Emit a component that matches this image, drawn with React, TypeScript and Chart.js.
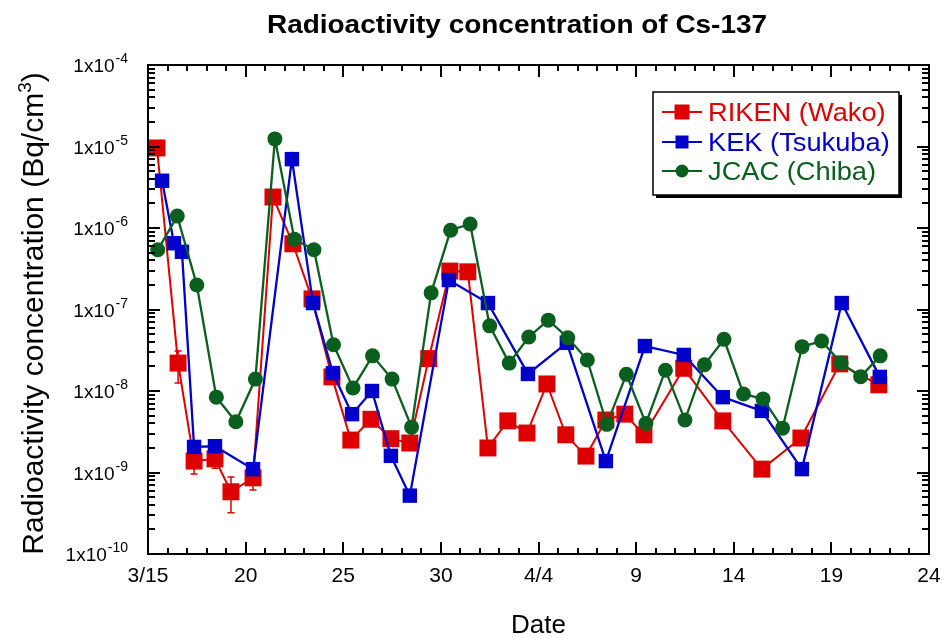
import React, { useEffect, useRef } from "react";
import { Chart, registerables } from "chart.js";

Chart.register(...registerables);

const FONT = '"Liberation Sans", Arial, Helvetica, sans-serif';

const chartTitle = "Radioactivity concentration of Cs-137";
const xAxisTitle = "Date";
const yAxisTitleMain = "Radioactivity concentration (Bq/cm";
const yAxisTitleSup = "3";
const yAxisTitleEnd = ")";

const seriesNames = ["RIKEN (Wako)", "KEK (Tsukuba)", "JCAC (Chiba)"];
const seriesColors = ["#dd0000", "#0000cc", "#0a5f1e"];

// x = day counted from 1 March (4/4 = 35)
const rikenDays = [15.46, 16.54, 17.36, 18.43, 19.25, 20.38, 21.4, 22.42, 23.4, 24.42, 25.39, 26.42, 27.44, 28.41, 29.38, 30.46, 31.38, 32.41, 33.43, 34.41, 35.43, 36.4, 37.43, 38.45, 39.42, 40.4, 42.44, 44.44, 46.44, 48.44, 50.43, 52.43];
const rikenValues = [9.6e-6, 2.2e-8, 1.38e-9, 1.47e-9, 5.8e-10, 8.6e-10, 2.4e-6, 6.4e-7, 1.35e-7, 1.49e-8, 2.5e-9, 4.5e-9, 2.6e-9, 2.3e-9, 2.5e-8, 2.96e-7, 2.9e-7, 2.0e-9, 4.3e-9, 3.05e-9, 1.22e-8, 2.9e-9, 1.59e-9, 4.4e-9, 5.2e-9, 2.9e-9, 1.9e-8, 4.3e-9, 1.1e-9, 2.65e-9, 2.15e-8, 1.19e-8];

const rikenErrDays = [16.54, 17.36, 18.43, 19.25, 20.38];
const rikenErrLow = [1.25e-8, 9.6e-10, 1.13e-9, 3.2e-10, 6.1e-10];
const rikenErrHigh = [3.1e-8, 2.0e-9, 1.9e-9, 8.8e-10, 1.2e-9];

const kekDays = [15.72, 16.33, 16.74, 17.36, 18.43, 20.38, 22.37, 23.45, 24.47, 25.45, 26.47, 27.44, 28.41, 30.41, 32.41, 34.46, 36.45, 38.45, 40.45, 42.44, 44.44, 46.44, 48.49, 50.53, 52.48];
const kekValues = [3.8e-6, 6.5e-7, 5.1e-7, 2.06e-9, 2.1e-9, 1.1e-9, 7.0e-6, 1.2e-7, 1.66e-8, 5.2e-9, 1.0e-8, 1.6e-9, 5.2e-10, 2.3e-7, 1.2e-7, 1.62e-8, 3.9e-8, 1.38e-9, 3.56e-8, 2.77e-8, 8.4e-9, 5.7e-9, 1.1e-9, 1.2e-7, 1.49e-8];

const jcacDays = [15.5, 16.5, 17.5, 18.5, 19.5, 20.5, 21.5, 22.5, 23.5, 24.5, 25.5, 26.5, 27.5, 28.5, 29.5, 30.5, 31.5, 32.5, 33.5, 34.5, 35.5, 36.5, 37.5, 38.5, 39.5, 40.5, 41.5, 42.5, 43.5, 44.5, 45.5, 46.5, 47.5, 48.5, 49.5, 50.5, 51.5, 52.5];
const jcacValues = [5.4e-7, 1.4e-6, 2.0e-7, 8.4e-9, 4.2e-9, 1.4e-8, 1.24e-5, 7.3e-7, 5.4e-7, 3.7e-8, 1.09e-8, 2.7e-8, 1.4e-8, 3.6e-9, 1.6e-7, 9.4e-7, 1.12e-6, 6.3e-8, 2.2e-8, 4.6e-8, 7.4e-8, 4.5e-8, 2.4e-8, 3.9e-9, 1.6e-8, 4.0e-9, 1.8e-8, 4.4e-9, 2.1e-8, 4.3e-8, 9.2e-9, 8.0e-9, 3.5e-9, 3.5e-8, 4.1e-8, 2.2e-8, 1.5e-8, 2.7e-8];

const xTickValues = [15, 20, 25, 30, 35, 40, 45, 50, 55];
const xTickLabels = ["3/15", "20", "25", "30", "4/4", "9", "14", "19", "24"];
const yTickExponents = [-10, -9, -8, -7, -6, -5, -4];

function toPoints(xs: number[], ys: number[]) {
  return xs.map((x, i) => ({ x, y: ys[i] }));
}

const decorPlugin = {
  id: "decor",
  beforeDatasetsDraw(chart: any) {
    const ctx = chart.ctx;
    const xs = chart.scales.x;
    const ys = chart.scales.y;
    ctx.save();
    ctx.strokeStyle = seriesColors[0];
    ctx.lineWidth = 1.5;
    rikenErrDays.forEach((d, i) => {
      const px = xs.getPixelForValue(d);
      const y1 = ys.getPixelForValue(rikenErrLow[i]);
      const y2 = ys.getPixelForValue(rikenErrHigh[i]);
      ctx.beginPath();
      ctx.moveTo(px, y1);
      ctx.lineTo(px, y2);
      ctx.moveTo(px - 3.5, y1);
      ctx.lineTo(px + 3.5, y1);
      ctx.moveTo(px - 3.5, y2);
      ctx.lineTo(px + 3.5, y2);
      ctx.stroke();
    });
    ctx.restore();
  },
  afterDatasetsDraw(chart: any) {
    const ctx = chart.ctx;
    const { left, right, top, bottom } = chart.chartArea;
    const xs = chart.scales.x;
    const ys = chart.scales.y;
    ctx.save();
    ctx.strokeStyle = "#000";
    ctx.lineWidth = 2;
    ctx.strokeRect(left, top, right - left, bottom - top);
    ctx.beginPath();
    for (let d = xTickValues[0]; d <= xTickValues[xTickValues.length - 1]; d++) {
      const px = Math.round(xs.getPixelForValue(d));
      const len = xTickValues.includes(d) ? 12 : 6;
      ctx.moveTo(px, bottom);
      ctx.lineTo(px, bottom - len);
      ctx.moveTo(px, top);
      ctx.lineTo(px, top + len);
    }
    for (let k = 0; k < yTickExponents.length - 1; k++) {
      for (let m = 1; m <= 9; m++) {
        const py = Math.round(ys.getPixelForValue(m * Math.pow(10, yTickExponents[k])));
        const len = m === 1 ? 12 : 7;
        ctx.moveTo(left, py);
        ctx.lineTo(left + len, py);
        ctx.moveTo(right, py);
        ctx.lineTo(right - len, py);
      }
    }
    ctx.stroke();
    ctx.restore();
  },
  afterDraw(chart: any) {
    const ctx = chart.ctx;
    const { left, right, top, bottom } = chart.chartArea;
    const xs = chart.scales.x;
    const ys = chart.scales.y;
    ctx.save();
    ctx.fillStyle = "#000";

    // x tick labels
    ctx.font = `21px ${FONT}`;
    ctx.textAlign = "center";
    ctx.textBaseline = "alphabetic";
    xTickValues.forEach((v, i) => {
      ctx.fillText(xTickLabels[i], xs.getPixelForValue(v), bottom + 28);
    });

    // y tick labels with superscript exponent
    const labelRight = left - 20;
    yTickExponents.forEach((e) => {
      const py = ys.getPixelForValue(Math.pow(10, e));
      const sup = String(e);
      ctx.textAlign = "right";
      ctx.font = `14px ${FONT}`;
      const supW = ctx.measureText(sup).width;
      ctx.fillText(sup, labelRight, py - 2);
      ctx.font = `19px ${FONT}`;
      ctx.fillText("1x10", labelRight - supW - 1, py + 7);
    });

    // x axis title
    ctx.textAlign = "center";
    ctx.font = `26px ${FONT}`;
    ctx.fillText(xAxisTitle, (left + right) / 2, bottom + 79);

    // y axis title (rotated)
    ctx.save();
    ctx.translate(43, (top + bottom) / 2 + 4);
    ctx.rotate(-Math.PI / 2);
    ctx.textAlign = "left";
    ctx.font = `30px ${FONT}`;
    const wMain = ctx.measureText(yAxisTitleMain).width;
    const wEnd = ctx.measureText(yAxisTitleEnd).width;
    ctx.font = `19px ${FONT}`;
    const wSup = ctx.measureText(yAxisTitleSup).width;
    const total = wMain + wSup + wEnd;
    let x0 = -total / 2;
    ctx.font = `30px ${FONT}`;
    ctx.fillText(yAxisTitleMain, x0, 0);
    ctx.font = `19px ${FONT}`;
    ctx.fillText(yAxisTitleSup, x0 + wMain, -12);
    ctx.font = `30px ${FONT}`;
    ctx.fillText(yAxisTitleEnd, x0 + wMain + wSup, 0);
    ctx.restore();

    // chart title
    ctx.save();
    ctx.translate(517, 33);
    ctx.scale(1.075, 1);
    ctx.textAlign = "center";
    ctx.font = `bold 26px ${FONT}`;
    ctx.fillText(chartTitle, 0, 0);
    ctx.restore();

    // legend
    const bx = 653, by = 92, bw = 246, bh = 103;
    ctx.fillStyle = "#000";
    ctx.fillRect(bx + 3, by + 3, bw, bh);
    ctx.fillStyle = "#fff";
    ctx.fillRect(bx, by, bw, bh);
    ctx.strokeStyle = "#000";
    ctx.lineWidth = 1.5;
    ctx.strokeRect(bx, by, bw, bh);
    const rows = [112, 142, 171];
    const markerSizes = [15, 13, 13];
    chart.data.datasets.forEach((ds: any, i: number) => {
      const cy = rows[i];
      ctx.strokeStyle = ds.borderColor;
      ctx.fillStyle = ds.borderColor;
      ctx.lineWidth = 2;
      ctx.beginPath();
      ctx.moveTo(662, cy);
      ctx.lineTo(702, cy);
      ctx.stroke();
      const s = markerSizes[i];
      if (ds.pointStyle === "circle") {
        ctx.beginPath();
        ctx.arc(682, cy, s / 2, 0, Math.PI * 2);
        ctx.fill();
      } else {
        ctx.fillRect(682 - s / 2, cy - s / 2, s, s);
      }
      ctx.save();
      ctx.translate(708, cy + 8.5);
      ctx.scale(1.09, 1);
      ctx.textAlign = "left";
      ctx.font = `25px ${FONT}`;
      ctx.fillText(ds.label, 0, 0);
      ctx.restore();
    });

    ctx.restore();
  },
};

export default function App() {
  const ref = useRef<HTMLCanvasElement | null>(null);
  useEffect(() => {
    if (!ref.current) return;
    const chart = new Chart(ref.current, {
      type: "line",
      data: {
        datasets: [
          {
            label: seriesNames[0],
            data: toPoints(rikenDays, rikenValues),
            borderColor: seriesColors[0],
            backgroundColor: seriesColors[0],
            borderWidth: 2,
            pointStyle: "rect",
            pointRadius: 12,
            pointBorderWidth: 0,
            tension: 0,
            clip: false,
            order: 3,
          },
          {
            label: seriesNames[1],
            data: toPoints(kekDays, kekValues),
            borderColor: seriesColors[1],
            backgroundColor: seriesColors[1],
            borderWidth: 2.3,
            pointStyle: "rect",
            pointRadius: 10.2,
            pointBorderWidth: 0,
            tension: 0,
            clip: false,
            order: 2,
          },
          {
            label: seriesNames[2],
            data: toPoints(jcacDays, jcacValues),
            borderColor: seriesColors[2],
            backgroundColor: seriesColors[2],
            borderWidth: 2.3,
            pointStyle: "circle",
            pointRadius: 7.5,
            pointBorderWidth: 0,
            tension: 0,
            clip: false,
            order: 1,
          },
        ] as any,
      },
      options: {
        responsive: false,
        animation: false,
        events: [],
        layout: { padding: { left: 148, right: 13, top: 65, bottom: 84 } },
        plugins: {
          legend: { display: false },
          title: { display: false },
          tooltip: { enabled: false },
        },
        scales: {
          x: { type: "linear", min: 15, max: 55, display: false },
          y: { type: "logarithmic", min: 1e-10, max: 1e-4, display: false },
        },
      } as any,
      plugins: [decorPlugin],
    });
    return () => chart.destroy();
  }, []);
  return (
    <div style={{ position: "absolute", left: 0, top: 0, width: 942, height: 638, background: "#fff" }}>
      <canvas ref={ref} width={942} height={638} style={{ display: "block" }} />
    </div>
  );
}
